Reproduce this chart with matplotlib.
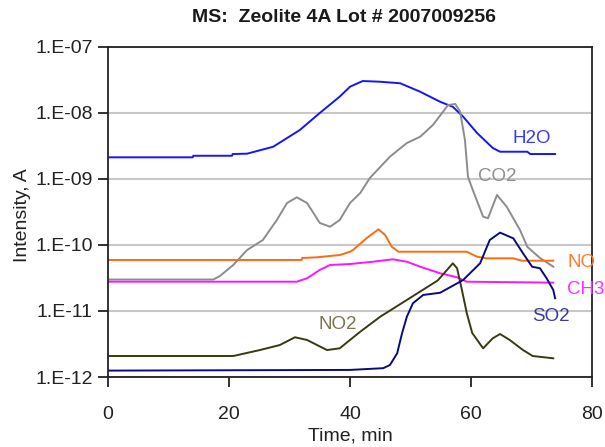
import matplotlib
matplotlib.use("Agg")
import matplotlib.pyplot as plt
import matplotlib.ticker as mticker
import numpy as np

plt.rcParams['font.family'] = ['Liberation Sans', 'DejaVu Sans']

# ---------------- data (time in min, intensity in A) ----------------
h2o_t = [0, 14, 14.1, 20.5, 20.6, 23, 27.3, 31.7, 35, 38.3, 40, 40.6, 42.1, 44.9,
         48.3, 51.6, 54.9, 57, 58.7, 61, 63.6, 64.8, 69.3, 69.8, 73.9]
h2o_v = [2.13e-9, 2.13e-9, 2.25e-9, 2.25e-9, 2.39e-9, 2.42e-9, 3.08e-9, 5.52e-9,
         1.0e-8, 1.77e-8, 2.50e-8, 2.65e-8, 3.05e-8, 2.98e-8, 2.82e-8, 2.10e-8,
         1.48e-8, 1.24e-8, 8.8e-9, 4.98e-9, 2.95e-9, 2.59e-9, 2.59e-9, 2.39e-9, 2.39e-9]

co2_t = [0.3, 17.4, 18.5, 20.7, 23, 25.6, 27.9, 29.6, 31.2, 32.9, 35, 36.7, 38.3, 40,
         41.7, 43.3, 46.6, 49.4, 51.6, 53.7, 55.4, 56.2, 57.4, 58.2, 59, 59.5, 60.3,
         62, 62.8, 64.3, 65.9, 68.1, 69.3, 71.4, 73.6]
co2_v = [3.0e-11, 3.0e-11, 3.39e-11, 4.98e-11, 8.4e-11, 1.19e-10, 2.39e-10, 4.33e-10,
         5.28e-10, 4.33e-10, 2.16e-10, 1.89e-10, 2.39e-10, 4.33e-10, 6.14e-10, 1.04e-9,
         2.18e-9, 3.51e-9, 4.37e-9, 6.58e-9, 1.05e-8, 1.32e-8, 1.37e-8, 1.05e-8, 3.9e-9,
         1.08e-9, 6.8e-10, 2.69e-10, 2.54e-10, 5.73e-10, 3.80e-10, 1.69e-10, 9.4e-11,
         6.35e-11, 4.69e-11]

no_t = [0, 32, 32.1, 34.5, 38.3, 40, 40.5, 42.8, 44.7, 45.8, 46.9, 48, 52, 59.3,
        61, 62.6, 67, 68.4, 73.6]
no_v = [5.93e-11, 5.93e-11, 6.35e-11, 6.51e-11, 7.05e-11, 7.91e-11, 8.4e-11, 1.28e-10,
        1.73e-10, 1.42e-10, 9.42e-11, 7.91e-11, 7.91e-11, 7.91e-11, 6.65e-11, 6.28e-11,
        6.28e-11, 5.78e-11, 5.78e-11]

ch3_t = [0, 31.2, 32.9, 35, 36.7, 40, 43.8, 47.1, 49.4, 51.6, 54.9, 57.7, 59.3, 73.6]
ch3_v = [2.78e-11, 2.78e-11, 3.13e-11, 4.18e-11, 4.98e-11, 5.15e-11, 5.58e-11, 6.07e-11,
         5.58e-11, 4.69e-11, 3.73e-11, 3.24e-11, 2.78e-11, 2.69e-11]

no2_t = [0, 20.7, 25.1, 28.4, 30.9, 32.9, 36.2, 38.3, 40, 41.7, 45, 49.4, 52, 54.5,
         57, 57.7, 58.5, 59.3, 60.2, 62, 63.6, 64.8, 66.4, 68.6, 70.2, 73.6]
no2_v = [2.08e-12, 2.08e-12, 2.56e-12, 3.05e-12, 4.0e-12, 3.64e-12, 2.56e-12, 2.72e-12,
         3.64e-12, 4.86e-12, 8.2e-12, 1.47e-11, 2.08e-11, 2.9e-11, 5.28e-11, 4.44e-11,
         2.08e-11, 9.33e-12, 4.64e-12, 2.72e-12, 3.86e-12, 4.48e-12, 3.64e-12, 2.56e-12,
         2.08e-12, 1.92e-12]

so2_t = [0, 40, 45.5, 46.6, 47.8, 48.6, 49.4, 50.4, 52.1, 54.9, 58.2, 58.7, 61.5, 63.1,
         64.8, 67, 68.6, 70.1, 71.4, 72.5, 73.6, 73.9]
so2_v = [1.25e-12, 1.28e-12, 1.36e-12, 1.52e-12, 2.29e-12, 4.59e-12, 8.2e-12, 1.31e-11,
         1.75e-11, 1.89e-11, 2.78e-11, 2.95e-11, 5.28e-11, 1.19e-10, 1.54e-10, 1.26e-10,
         7.48e-11, 4.69e-11, 4.44e-11, 3.13e-11, 2.08e-11, 1.56e-11]

series_names = ["H2O", "CO2", "NO", "CH3", "NO2", "SO2"]
x_ticks = [0, 20, 40, 60, 80]
title = "MS:  Zeolite 4A Lot # 2007009256"
x_label = "Time, min"
y_label = "Intensity, A"

# ---------------- drawing ----------------
fig = plt.figure(figsize=(6.05, 4.47), dpi=100)
ax = fig.add_axes([108/605, 1-377/447, 484/605, 330/447])

lw = 1.4
ax.plot(h2o_t, h2o_v, color="#1414ff", lw=lw)
ax.plot(co2_t, co2_v, color="#8c8c8c", lw=lw)
ax.plot(no_t, no_v, color="#ff6a10", lw=lw)
ax.plot(ch3_t, ch3_v, color="#ff14ff", lw=lw)
ax.plot(no2_t, no2_v, color="#3a3a10", lw=lw)
ax.plot(so2_t, so2_v, color="#0a0a80", lw=lw)

ax.set_yscale("log")
ax.set_ylim(1e-12, 1e-7)
ax.set_xlim(0, 80)
ax.set_xticks(x_ticks)
ax.yaxis.set_major_locator(mticker.LogLocator(base=10, numticks=10))
ax.yaxis.set_minor_locator(mticker.NullLocator())
ax.yaxis.set_major_formatter(mticker.FuncFormatter(
    lambda v, p: "1.E%+03d" % int(round(np.log10(v)))))
ax.grid(True, axis="y", color="#c8c8c8", lw=1.5)
ax.set_axisbelow(True)
for s in ax.spines.values():
    s.set_linewidth(1.3)
    s.set_color("#222222")
ax.tick_params(axis="both", direction="out", length=7, width=1.3,
               labelsize=14, colors="#222222", pad=4)
ax.tick_params(axis="x", pad=14)

ax.set_xlabel(x_label, fontsize=14, color="#222222", va="center")
ax.xaxis.set_label_coords(0.5, -0.178)
ax.set_ylabel(y_label, fontsize=14, color="#222222")
ax.yaxis.set_label_coords(-0.16, 0.49)

fig.text(0.569, 1-18/447, title, ha="center", va="center", fontsize=14,
         fontweight="bold", color="#1a1a1a")

lab_fs = 13.5
ax.text(70.1, 4.11e-9, series_names[0], color="#3a3aff", fontsize=lab_fs, ha="center", va="center")
ax.text(64.3, 1.11e-9, series_names[1], color="#909090", fontsize=lab_fs, ha="center", va="center")
ax.text(75.9, 5.52e-11, series_names[2], color="#ff7a30", fontsize=lab_fs, ha="left", va="center", clip_on=False)
ax.text(75.9, 2.15e-11, series_names[3], color="#ff30ff", fontsize=lab_fs, ha="left", va="center", clip_on=False)
ax.text(38.0, 6.14e-12, series_names[4], color="#7a7450", fontsize=lab_fs, ha="center", va="center")
ax.text(73.2, 8.26e-12, series_names[5], color="#3a3a9a", fontsize=lab_fs, ha="center", va="center")

fig.savefig("out.png", dpi=100)
